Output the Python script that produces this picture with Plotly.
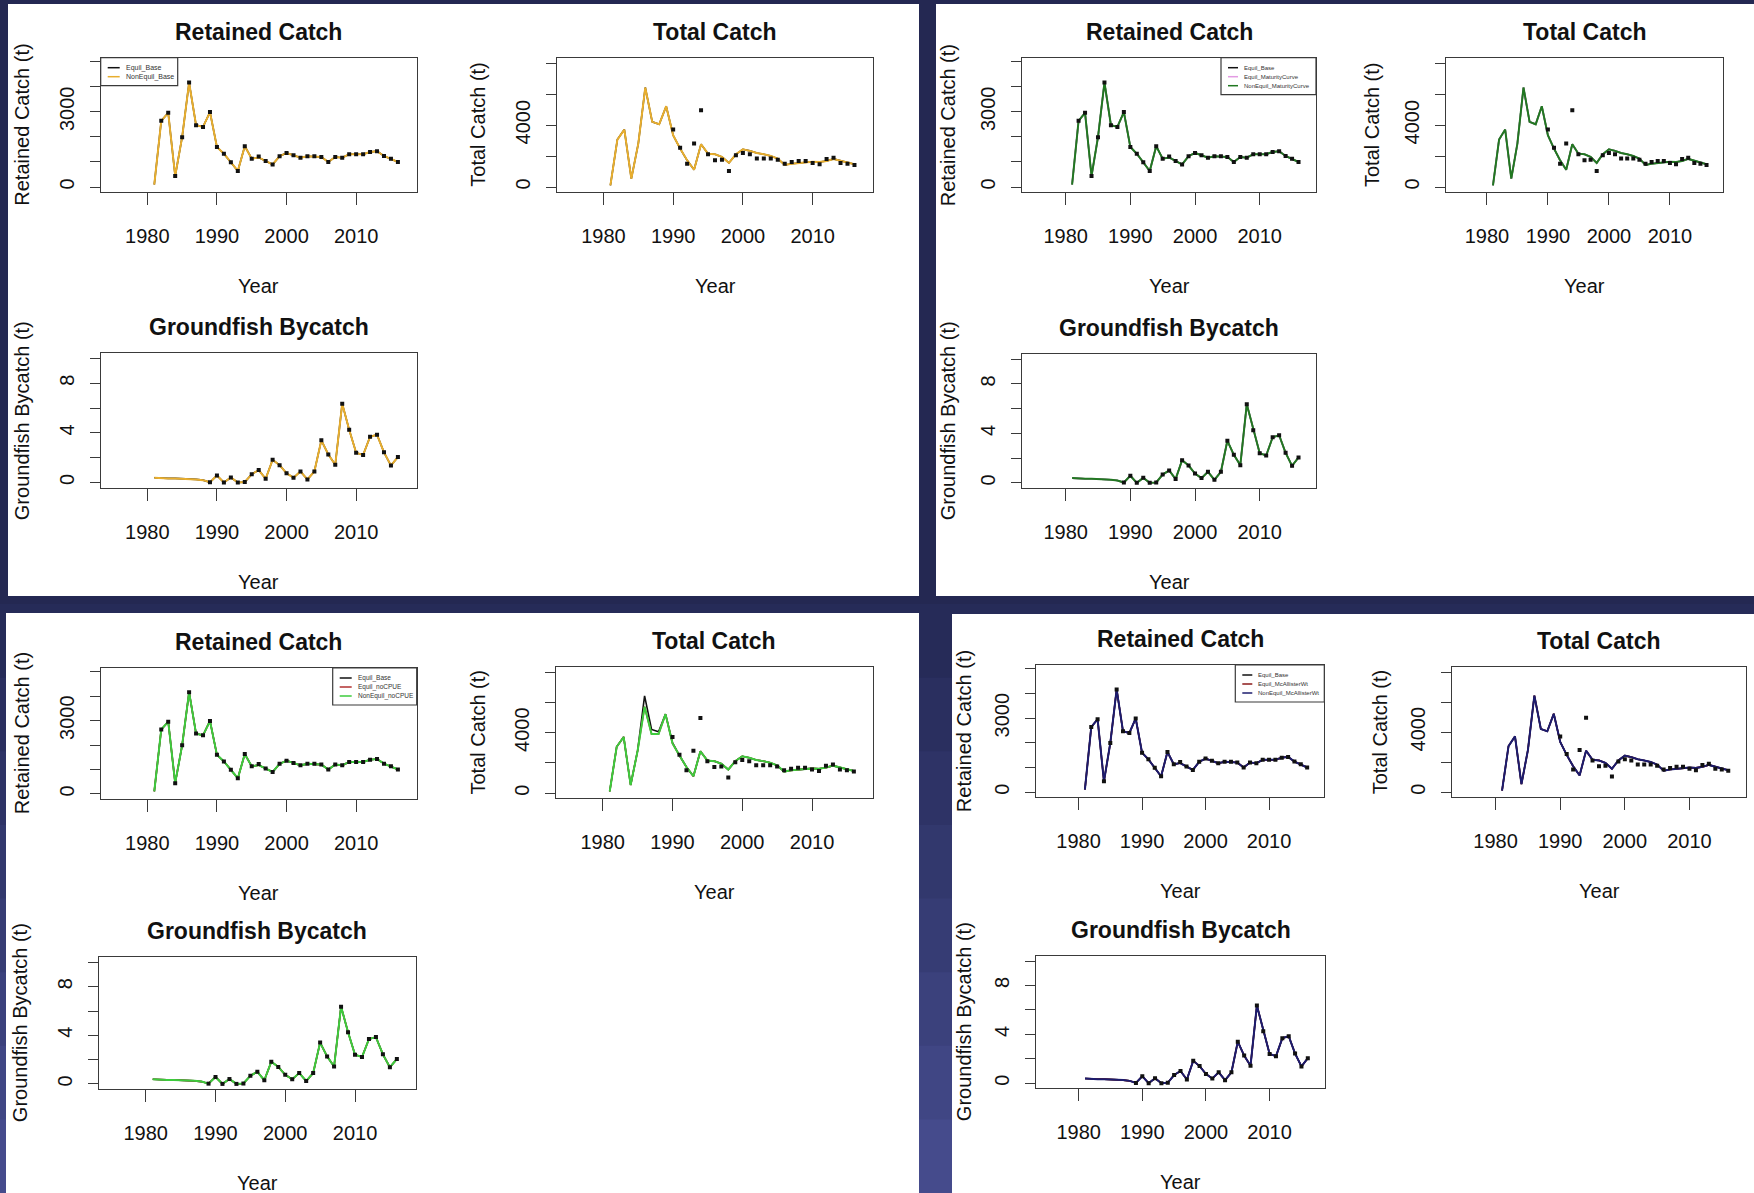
import plotly.graph_objects as go

# ---- data ----
years = [1981, 1982, 1983, 1984, 1985, 1986, 1987, 1988, 1989, 1990,
         1991, 1992, 1993, 1994, 1995, 1996, 1997, 1998, 1999, 2000,
         2001, 2002, 2003, 2004, 2005, 2006, 2007, 2008, 2009, 2010,
         2011, 2012, 2013, 2014, 2015, 2016]

retained_base = [100, 2640, 2960, 440, 1990, 4170, 2470, 2400, 2990, 1600,
                 1330, 990, 640, 1630, 1130, 1180, 1040, 900, 1230, 1360,
                 1270, 1170, 1230, 1230, 1200, 1000, 1200, 1170, 1310, 1310,
                 1310, 1400, 1430, 1240, 1130, 1000]
retained_obs_years = years[1:]
retained_obs = [2640, 2960, 440, 1990, 4170, 2470, 2400, 2990, 1600,
                1330, 990, 640, 1630, 1130, 1220, 1040, 900, 1230, 1360,
                1270, 1170, 1230, 1230, 1200, 1000, 1200, 1170, 1310, 1310,
                1310, 1400, 1430, 1240, 1130, 1000]

total_base = [110, 3070, 3720, 540, 2810, 6440, 4220, 4060, 5230, 3350,
              2490, 1730, 1120, 2770, 2160, 2120, 1950, 1560, 2120, 2440,
              2340, 2200, 2120, 2010, 1840, 1430, 1510, 1560, 1600, 1640,
              1620, 1690, 1820, 1690, 1580, 1470]
total_nocpue = [110, 3070, 3720, 540, 2810, 5720, 3910, 3910, 5230, 3290,
                2490, 1730, 1120, 2770, 2160, 2120, 1950, 1560, 2120, 2440,
                2340, 2200, 2120, 2010, 1840, 1430, 1510, 1560, 1600, 1640,
                1620, 1690, 1820, 1690, 1580, 1470]
total_obs_years = years[9:]
total_obs = [3720, 2550, 1510, 2810, 4970, 2120, 1730, 1770, 1040, 2050,
             2200, 2120, 1840, 1840, 1840, 1770, 1510, 1620, 1690, 1690,
             1560, 1470, 1820, 1900, 1560, 1510, 1430]

bycatch_base = [0.38, 0.34, 0.33, 0.33, 0.32, 0.30, 0.25, 0.19, 0.02, 0.57,
                0.0, 0.40, 0.0, 0.03, 0.67, 1.0, 0.30, 1.83, 1.40, 0.75,
                0.38, 0.89, 0.24, 0.89, 3.40, 2.26, 1.43, 6.36, 4.26, 2.40,
                2.21, 3.69, 3.85, 2.43, 1.37, 2.05]
bycatch_obs_years = years[8:]
bycatch_obs = [0.02, 0.57, 0.0, 0.40, 0.0, 0.03, 0.67, 1.0, 0.30, 1.83,
               1.40, 0.75, 0.38, 0.89, 0.24, 0.89, 3.40, 2.26, 1.43, 6.36,
               4.26, 2.40, 2.21, 3.69, 3.85, 2.43, 1.37, 2.05]

year_ticks = [1980, 1990, 2000, 2010]
retained_ticks = [0, 1000, 2000, 3000, 4000, 5000]
retained_ticktext = ["0", "", "", "3000", "", ""]
total_ticks = [0, 2000, 4000, 6000, 8000]
total_ticktext = ["0", "", "4000", "", ""]
bycatch_ticks = [0, 2, 4, 6, 8, 10]
bycatch_ticktext = ["0", "", "4", "", "8", ""]

# scenario per panel: (equil name, equil colour, nonequil name, nonequil colour, total series)
panels = [
    (None, None, "NonEquil_Base", "#E8AE2E", total_base),
    ("Equil_MaturityCurve", "#E39BE3", "NonEquil_MaturityCurve", "#217821", total_base),
    ("Equil_noCPUE", "#B03030", "NonEquil_noCPUE", "#3DCB3D", total_nocpue),
    ("Equil_McAllisterWt", "#8B1A1A", "NonEquil_McAllisterWt", "#1C1C6E", total_base),
]

# ---- layout geometry (pixels of the 1754x1193 picture) ----
W, H = 1754, 1193
panel_rects = [(8, 919, 4, 596), (936, 1754, 4, 596), (6, 919, 613, 1193), (952, 1754, 614, 1193)]
boxes = [
    [(100.7, 416.7, 57.7, 192.3), (556.7, 873.3, 57.7, 192.3), (100.7, 416.7, 353.3, 487.7)],
    [(1022.3, 1316, 57.7, 192.3), (1446, 1723, 57.7, 192.3), (1022.3, 1316, 354, 488)],
    [(100.7, 416.7, 668, 799), (556, 872.7, 666.7, 798.3), (99, 415.7, 957.3, 1089)],
    [(1036, 1324.3, 665, 797.3), (1452.3, 1745.7, 666.7, 797.3), (1036, 1325, 956, 1088.3)],
]
ytitle_shift = [79, 74, 79, 72]
legend_width = [77, 95, 84, 89]
legend_font = [7, 6, 6.5, 6]
legend_text_x = [23, 21, 23, 21]

FONT = "Liberation Sans, Arial, Helvetica, sans-serif"
TXT = "#111111"
AX = "#3a3a3a"

fig = go.Figure()
layout = dict(
    width=W, height=H, margin=dict(l=0, r=0, t=0, b=0),
    paper_bgcolor="#242852", plot_bgcolor="white",
    font=dict(family=FONT, color=TXT, size=20),
    shapes=[], annotations=[], showlegend=False,
)

# background bands (lighter towards the bottom) and white panels
band_colors = ["#262b58", "#2a2f5f", "#2e3366", "#32386d", "#363c74", "#3b417c", "#404684", "#454b8c"]
band_h = (H - 604) / len(band_colors)
for i, c in enumerate(band_colors):
    y0 = 604 + i * band_h
    layout["shapes"].append(dict(type="rect", xref="paper", yref="paper", layer="below",
                                 x0=0, x1=1, y0=1 - (y0 + band_h + 1) / H, y1=1 - y0 / H,
                                 fillcolor=c, line_width=0))
for (x0, x1, y0, y1) in panel_rects:
    layout["shapes"].append(dict(type="rect", xref="paper", yref="paper", layer="below",
                                 x0=x0 / W, x1=x1 / W, y0=1 - y1 / H, y1=1 - y0 / H,
                                 fillcolor="white", line_width=0))

kinds = [
    ("Retained Catch", "Retained Catch (t)", [-210, 5160], retained_ticks, retained_ticktext),
    ("Total Catch", "Total Catch (t)", [-340, 8370], total_ticks, total_ticktext),
    ("Groundfish Bycatch", "Groundfish Bycatch (t)", [-0.42, 10.42], bycatch_ticks, bycatch_ticktext),
]

k = 0
for p, (eq_name, eq_col, ne_name, ne_col, total_series) in enumerate(panels):
    for j, (title, ytitle, yrange, yt, ytt) in enumerate(kinds):
        k += 1
        xa = "x" if k == 1 else "x%d" % k
        ya = "y" if k == 1 else "y%d" % k
        bx0, bx1, by0, by1 = boxes[p][j]
        common = dict(showline=True, mirror=True, linecolor=AX, linewidth=1.3,
                      ticks="outside", tickcolor=AX, tickwidth=1.3,
                      showgrid=False, zeroline=False,
                      tickfont=dict(size=20, color=TXT, family=FONT))
        layout["xaxis" if k == 1 else "xaxis%d" % k] = dict(
            common, domain=[bx0 / W, bx1 / W], anchor=ya, range=[1973.3, 2018.7],
            tickvals=year_ticks, ticklen=12, ticklabelstandoff=14)
        layout["yaxis" if k == 1 else "yaxis%d" % k] = dict(
            common, domain=[1 - by1 / H, 1 - by0 / H], anchor=xa, range=yrange,
            tickvals=yt, ticktext=ytt, tickangle=-90, ticklen=10, ticklabelstandoff=8)

        if j == 0:
            line_y, obs_x, obs_y = retained_base, retained_obs_years, retained_obs
            eq_y = retained_base
        elif j == 1:
            line_y, obs_x, obs_y = total_series, total_obs_years, total_obs
            eq_y = total_base
        else:
            line_y, obs_x, obs_y = bycatch_base, bycatch_obs_years, bycatch_obs
            eq_y = bycatch_base

        fig.add_trace(go.Scatter(x=years, y=eq_y, mode="lines", name="Equil_Base",
                                 line=dict(color="#111111", width=1.6), xaxis=xa, yaxis=ya))
        if eq_name:
            fig.add_trace(go.Scatter(x=years, y=line_y, mode="lines", name=eq_name,
                                     line=dict(color=eq_col, width=1.6), xaxis=xa, yaxis=ya))
        fig.add_trace(go.Scatter(x=years, y=line_y, mode="lines", name=ne_name,
                                 line=dict(color=ne_col, width=2), xaxis=xa, yaxis=ya))
        fig.add_trace(go.Scatter(x=obs_x, y=obs_y, mode="markers", name="Observed",
                                 marker=dict(color="#111111", size=4, symbol="square"),
                                 xaxis=xa, yaxis=ya))

        # titles
        layout["annotations"].append(dict(
            text="<b>%s</b>" % title, xref="%s domain" % xa, yref="%s domain" % ya,
            x=0.5, y=1, yshift=26, xanchor="center", yanchor="middle", showarrow=False,
            font=dict(size=23, color=TXT, family=FONT)))
        layout["annotations"].append(dict(
            text="Year", xref="%s domain" % xa, yref="%s domain" % ya,
            x=0.5, y=0, yshift=-94, xanchor="center", yanchor="middle", showarrow=False,
            font=dict(size=20, color=TXT, family=FONT)))
        layout["annotations"].append(dict(
            text=ytitle, xref="%s domain" % xa, yref="%s domain" % ya, textangle=-90,
            x=0, y=0.5, xshift=-ytitle_shift[p], xanchor="center", yanchor="middle",
            showarrow=False, font=dict(size=20, color=TXT, family=FONT)))

        # small R-style legend box in the Retained Catch plot
        if j == 0:
            entries = [("Equil_Base", "#111111")]
            if eq_name:
                entries.append((eq_name, eq_col))
            entries.append((ne_name, ne_col))
            lw = legend_width[p]
            anchor = 0 if p == 0 else 1
            left = 0 if p == 0 else -lw
            lh = 10 + 9 * len(entries)
            tx = legend_text_x[p]
            layout["shapes"].append(dict(
                type="rect", xref="%s domain" % xa, yref="%s domain" % ya,
                xsizemode="pixel", xanchor=anchor, x0=left, x1=left + lw,
                ysizemode="pixel", yanchor=1, y0=0, y1=-lh,
                fillcolor="white", line=dict(color=AX, width=1.2), layer="above"))
            for e, (name, col) in enumerate(entries):
                yy = -(10 + 9 * e)
                layout["shapes"].append(dict(
                    type="line", xref="%s domain" % xa, yref="%s domain" % ya,
                    xsizemode="pixel", xanchor=anchor, x0=left + 7, x1=left + tx - 4,
                    ysizemode="pixel", yanchor=1, y0=yy, y1=yy,
                    line=dict(color=col, width=1.5), layer="above"))
                layout["annotations"].append(dict(
                    text=name, xref="%s domain" % xa, yref="%s domain" % ya,
                    x=anchor, y=1, xshift=left + tx, yshift=yy, xanchor="left",
                    yanchor="middle", showarrow=False,
                    font=dict(size=legend_font[p], color="#333333", family=FONT)))

fig.update_layout(layout)
# page body has an 8px default margin; drop it so the figure fills the window
fig.write_html("out.html", config={"displayModeBar": False},
               post_script="document.body.style.margin = '0px';")
